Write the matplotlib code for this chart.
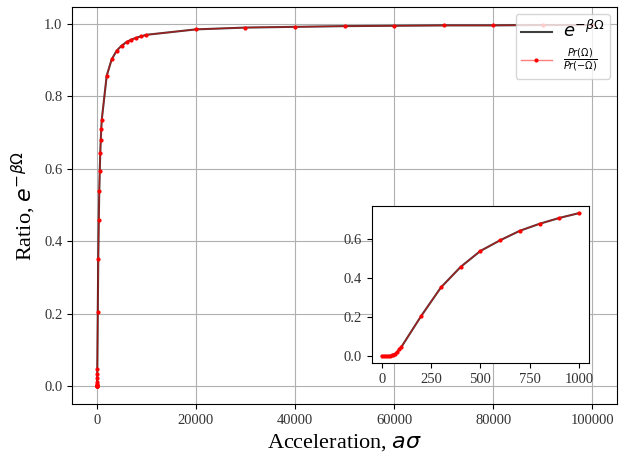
import matplotlib.pyplot as plt

plt.rcParams["font.family"] = ["Liberation Serif", "DejaVu Serif"]
plt.rcParams["mathtext.fontset"] = "dejavusans"

accel = [1, 10, 20, 30, 40, 50, 60, 70, 80, 90, 100,
         200, 300, 400, 500, 600, 700, 800, 900, 1000,
         2000, 3000, 4000, 5000, 6000, 7000, 8000, 9000, 10000,
         20000, 30000, 40000, 50000, 60000, 70000, 80000, 90000, 100000]
ratio = [0.0, 0.0, 0.0, 0.0, 0.0005, 0.002, 0.006, 0.012, 0.021, 0.033, 0.046,
         0.205, 0.352, 0.458, 0.540, 0.595, 0.644, 0.680, 0.710, 0.735,
         0.857, 0.902, 0.926, 0.940, 0.950, 0.957, 0.962, 0.966, 0.970,
         0.985, 0.990, 0.992, 0.994, 0.995, 0.996, 0.996, 0.997, 0.997]
theory = ratio  # e^{-beta Omega} curve coincides with the measured ratio

inset_n = 20  # points up to a = 1000 go in the inset
inset_xticks = [0, 250, 500, 750, 1000]

red_line = dict(color=(1, 0, 0, 0.5), linewidth=1.0, marker=".", markersize=4,
                markerfacecolor="red", markeredgecolor="red")

fig = plt.figure(figsize=(6.22, 4.54), dpi=100)
ax = fig.add_axes([0.1158, 0.110, 0.8762, 0.8746])

ax.plot(accel, theory, color="black", linewidth=1.5, alpha=0.75, label=r"$e^{-\beta\Omega}$")
ax.plot(accel, ratio, label=r"$\frac{Pr(\Omega)}{Pr(-\Omega)}$", **red_line)
ax.grid(True, color="#b0b0b0", linewidth=0.8)
ax.set_xlabel(r"Acceleration, $a\sigma$", fontsize=16)
ax.set_ylabel(r"Ratio, $e^{-\beta\Omega}$", fontsize=16)
ax.tick_params(labelsize=10.5, labelcolor="#333333")
leg = ax.legend(loc="upper right", fontsize=10, handlelength=2.2, labelspacing=0.4)
leg.get_texts()[0].set_fontsize(13)

# Inset zoomed on small accelerations
axin = fig.add_axes([0.598, 0.2004, 0.349, 0.346])
axin.plot(accel[:inset_n], theory[:inset_n], color="black", linewidth=1.5, alpha=0.75)
axin.plot(accel[:inset_n], ratio[:inset_n], **red_line)
axin.set_xticks(inset_xticks)
axin.set_yticks([0.0, 0.2, 0.4, 0.6])
axin.tick_params(labelsize=10.5, labelcolor="#333333")

fig.savefig("out.png", dpi=100)
